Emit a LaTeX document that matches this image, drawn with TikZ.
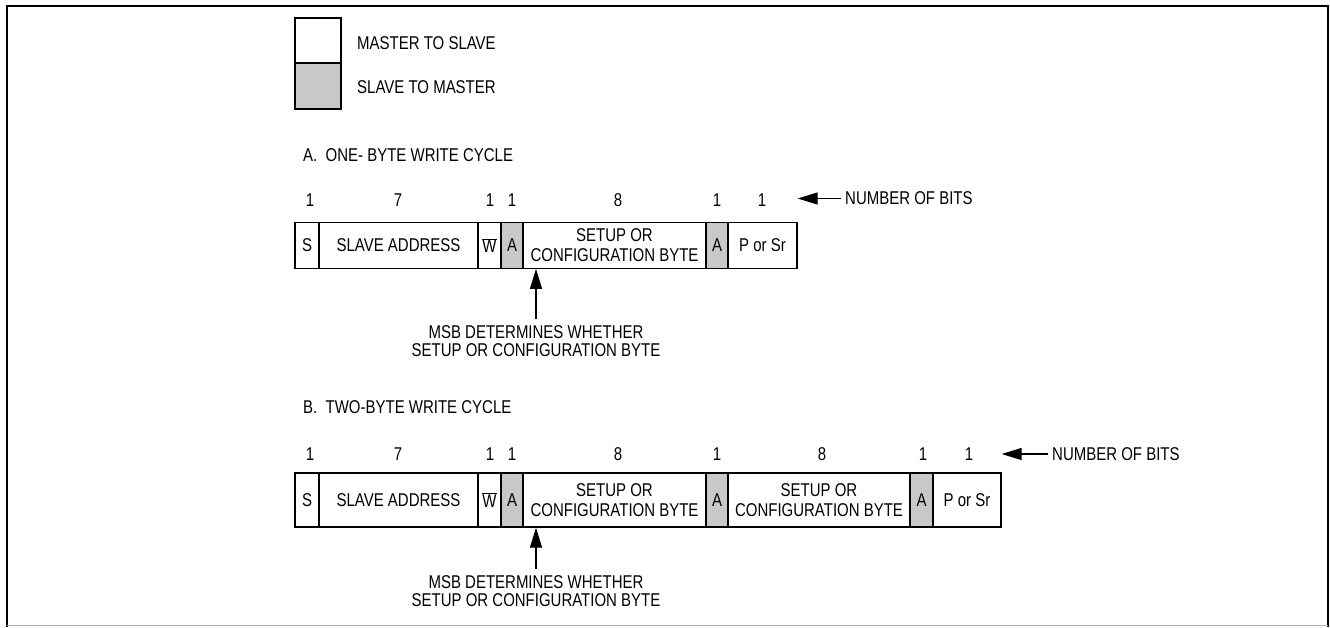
\documentclass[tikz,border=0pt]{standalone}
\usepackage{fontspec}
\setmainfont{Liberation Sans}[FakeStretch=0.81]
\usetikzlibrary{arrows.meta}
\definecolor{slavegray}{RGB}{200,200,200}
\tikzset{
	field/.style={draw, line width=1.3pt, inner sep=0pt, align=center, font=\fontsize{18.5}{20}\selectfont},
	fieldA/.style={field, minimum height=45.5pt},
	fieldB/.style={field, minimum height=54pt},
	ack/.style={fill=slavegray},
	txt/.style={inner sep=0pt, font=\fontsize{18.5}{20}\selectfont},
	note/.style={inner sep=0pt, align=center, font=\fontsize{18.5}{18.5}\selectfont},
	pointer/.style={-{Triangle[length=20pt,width=12pt]}, line width=1.3pt}
}

\begin{document}
\begin{tikzpicture}[x=1pt, y=-1pt]
			%%%%% START %%%%%
			\useasboundingbox (0,0) rectangle (1330,627);
			
			% frame
			\draw[line width=2pt] (7,627) -- (7,6) -- (1328,6) -- (1328,627);
			\draw[line width=1pt, black!30] (7,625) -- (1328,625);
			
			% legend
			\node[field, minimum width=46pt, minimum height=45pt] (m2s) at (318,40.5) {};
			\node[field, ack, minimum width=46pt, minimum height=46pt] (s2m) at (318,86) {};
			\node[txt, anchor=west] (m2stxt) at (357,43) {MASTER TO SLAVE};
			\node[txt, anchor=west] (s2mtxt) at (357,87) {SLAVE TO MASTER};
			
			%%%%% A. ONE-BYTE WRITE CYCLE %%%%%
			\node[txt, anchor=west] (titleA) at (303,155) {A.\ \ ONE- BYTE WRITE CYCLE};
			
			\node[fieldA, minimum width=24pt] (sA) at (307,245.5) {S};
			\node[fieldA, minimum width=159pt] (addrA) at (398.5,245.5) {SLAVE ADDRESS};
			\node[fieldA, minimum width=23pt] (wA) at (489.5,245.5) {$\overline{\mbox{W}}$};
			\node[fieldA, ack, minimum width=22pt] (ackA1) at (512,245.5) {A};
			\node[fieldA, minimum width=183pt] (byteA) at (614.5,245.5) {SETUP OR\\CONFIGURATION BYTE};
			\node[fieldA, ack, minimum width=22pt] (ackA2) at (717,245.5) {A};
			\node[fieldA, minimum width=69pt] (pA) at (762.5,245.5) {P or Sr};
			
			\node[txt] at (310,200) {1};
			\node[txt] at (398,200) {7};
			\node[txt] at (490,200) {1};
			\node[txt] at (512,200) {1};
			\node[txt] at (618,200) {8};
			\node[txt] at (717,200) {1};
			\node[txt] at (762,200) {1};
			
			\node[txt, anchor=west] (nbA) at (845,198.5) {NUMBER OF BITS};
			\draw[pointer, shorten <=4pt] (nbA.west) -- (nbA.west -| pA.east);
			
			\node[note] (msbA) at (536,341) {MSB DETERMINES WHETHER\\SETUP OR CONFIGURATION BYTE};
			\draw[pointer, shorten <=6pt] (msbA.north) -- (msbA.north |- byteA.south);
			
			%%%%% B. TWO-BYTE WRITE CYCLE %%%%%
			\node[txt, anchor=west] (titleB) at (303,407) {B.\ \ TWO-BYTE WRITE CYCLE};
			
			\node[fieldB, minimum width=24pt] (sB) at (307,500) {S};
			\node[fieldB, minimum width=159pt] (addrB) at (398.5,500) {SLAVE ADDRESS};
			\node[fieldB, minimum width=23pt] (wB) at (489.5,500) {$\overline{\mbox{W}}$};
			\node[fieldB, ack, minimum width=22pt] (ackB1) at (512,500) {A};
			\node[fieldB, minimum width=183pt] (byteB1) at (614.5,500) {SETUP OR\\CONFIGURATION BYTE};
			\node[fieldB, ack, minimum width=22pt] (ackB2) at (717,500) {A};
			\node[fieldB, minimum width=182pt] (byteB2) at (819,500) {SETUP OR\\CONFIGURATION BYTE};
			\node[fieldB, ack, minimum width=23pt] (ackB3) at (921.5,500) {A};
			\node[fieldB, minimum width=68pt] (pB) at (967,500) {P or Sr};
			
			\node[txt] at (310,454) {1};
			\node[txt] at (398,454) {7};
			\node[txt] at (490,454) {1};
			\node[txt] at (512,454) {1};
			\node[txt] at (618,454) {8};
			\node[txt] at (717,454) {1};
			\node[txt] at (822,454) {8};
			\node[txt] at (923,454) {1};
			\node[txt] at (969,454) {1};
			
			\node[txt, anchor=west] (nbB) at (1052,454) {NUMBER OF BITS};
			\draw[pointer, shorten <=4pt] (nbB.west) -- (nbB.west -| pB.east);
			
			\node[note] (msbB) at (536,591) {MSB DETERMINES WHETHER\\SETUP OR CONFIGURATION BYTE};
			\draw[pointer, shorten <=6pt] (msbB.north) -- (msbB.north |- byteB1.south);
			
			%%%%% END %%%%%
\end{tikzpicture}
\end{document}
